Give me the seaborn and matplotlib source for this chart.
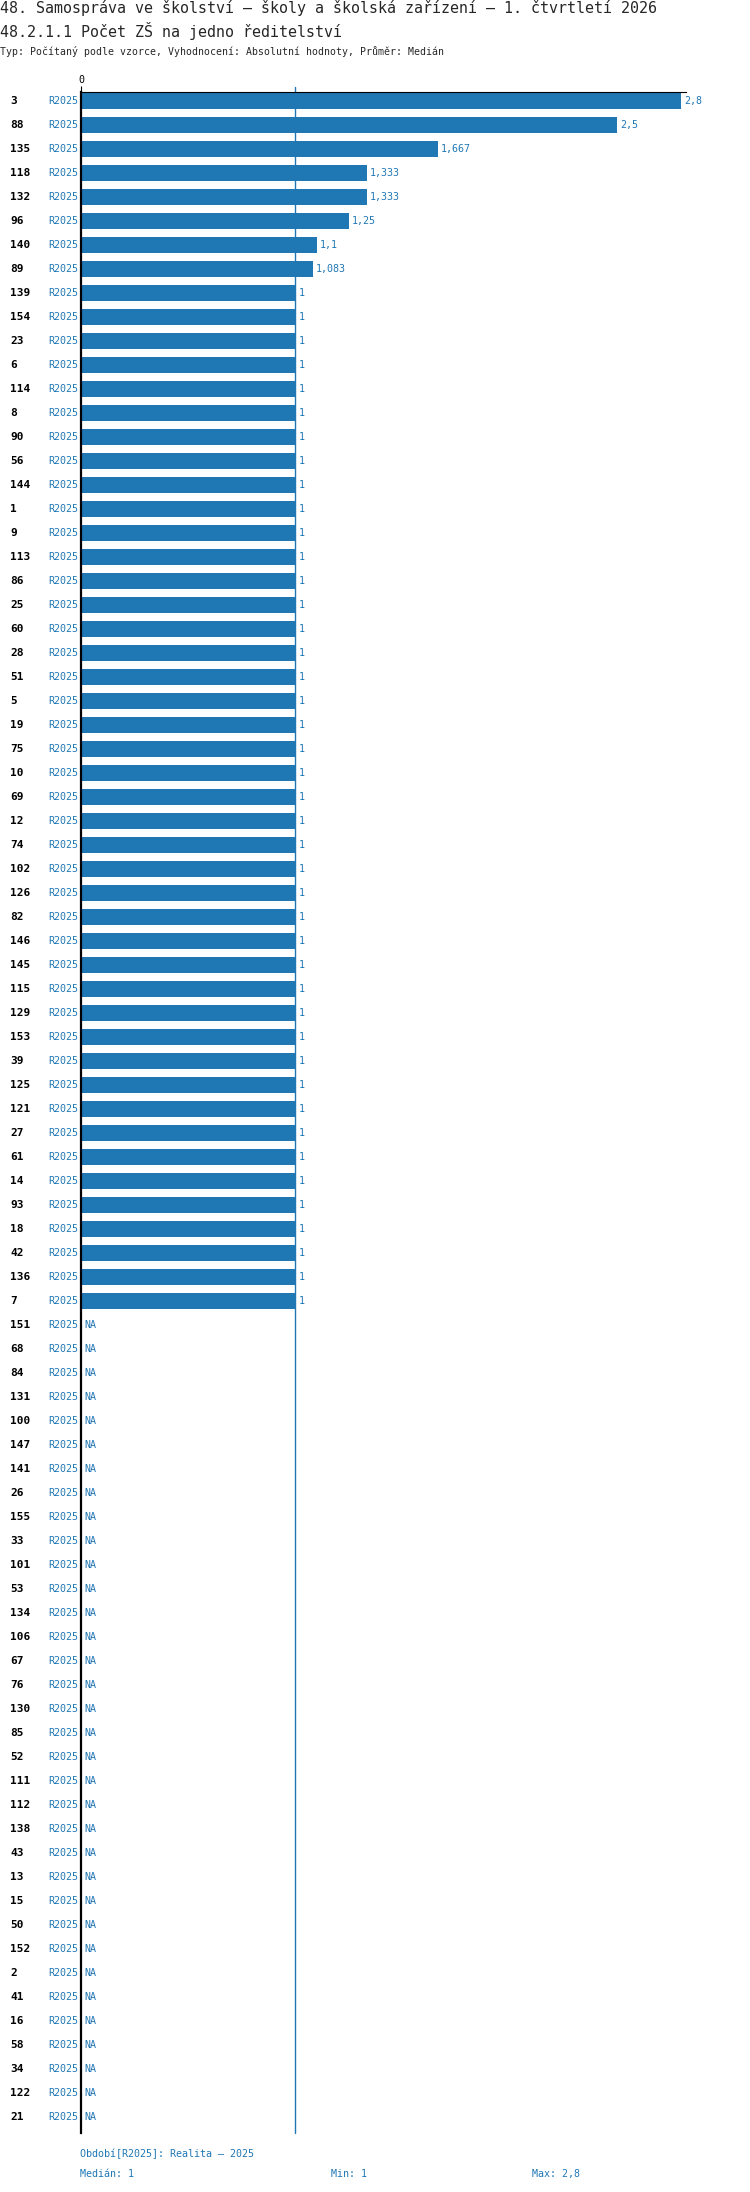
import matplotlib
matplotlib.use("Agg")
import matplotlib.pyplot as plt
import matplotlib.transforms as mtransforms
import numpy as np
import pandas as pd
import seaborn as sns

sns.set_style("white")
plt.rcParams["font.family"] = ["DejaVu Sans Mono", "DejaVu Sans"]

# data
kody_hodnoty = [3, 88, 135, 118, 132, 96, 140, 89, 139, 154, 23, 6, 114, 8, 90, 56,
                144, 1, 9, 113, 86, 25, 60, 28, 51, 5, 19, 75, 10, 69, 12, 74, 102,
                126, 82, 146, 145, 115, 129, 153, 39, 125, 121, 27, 61, 14, 93, 18,
                42, 136, 7]
hodnoty = [2.8, 2.5, 1.667, 1.333, 1.333, 1.25, 1.1, 1.083] + [1] * 43
kody_na = [151, 68, 84, 131, 100, 147, 141, 26, 155, 33, 101, 53, 134, 106, 67, 76,
           130, 85, 52, 111, 112, 138, 43, 13, 15, 50, 152, 2, 41, 16, 58, 34, 122, 21]
obdobi = "R2025"

title1 = "48. Samospráva ve školství – školy a školská zařízení – 1. čtvrtletí 2026"
title2 = "48.2.1.1 Počet ZŠ na jedno ředitelství"
subtitle = "Typ: Počítaný podle vzorce, Vyhodnocení: Absolutní hodnoty, Průměr: Medián"
footer = "Období[R2025]: Realita – 2025"

BLUE = "#1f77b4"
W, H = 750, 2192


def fmt(v):
    return f"{v:g}".replace(".", ",")


df = pd.DataFrame({"kod": [str(k) for k in kody_hodnoty], "hodnota": hodnoty})
order = [str(k) for k in kody_hodnoty + kody_na]

fig = plt.figure(figsize=(W / 100, H / 100), dpi=100)
ax = fig.add_axes([81 / W, 1 - 2133 / H, 605 / W, (2133 - 92) / H])

sns.barplot(data=df, y="kod", x="hodnota", order=order, orient="h",
            color=BLUE, saturation=1, width=16 / 24, linewidth=0, ax=ax)

ax.set_ylim(84.67, -0.36)
ax.set_xlim(0, 2.823)
ax.set_xlabel("")
ax.set_ylabel("")
ax.set_yticks([])

ax.xaxis.set_ticks_position("top")
ax.set_xticks([0])
ax.set_xticklabels(["0"])
ax.tick_params(axis="x", length=4, width=0.8, color="black", pad=1,
               labelsize=7.2, colors="black")

for side in ["right", "bottom"]:
    ax.spines[side].set_visible(False)
ax.spines["left"].set_linewidth(1.6)
ax.spines["left"].set_color("black")
ax.spines["top"].set_linewidth(0.8)
ax.spines["top"].set_color("black")

median = np.median(hodnoty)
ax.axvline(median, ymin=0, ymax=1 + 5 / 2041, color=BLUE, lw=1, clip_on=False)

# row labels
tr = mtransforms.blended_transform_factory(fig.transFigure, ax.transData)
for i, kod in enumerate(order):
    ax.text(10 / W, i, kod, transform=tr, ha="left", va="center",
            fontsize=8, fontweight="bold", color="black")
    ax.text(78 / W, i, obdobi, transform=tr, ha="right", va="center",
            fontsize=7.2, color=BLUE)

for i, v in enumerate(hodnoty):
    ax.text(v + 3 / 214.3, i, fmt(v), ha="left", va="center",
            fontsize=7.2, color=BLUE)

for j, kod in enumerate(kody_na):
    ax.text(84 / W, len(kody_hodnoty) + j, "NA", transform=tr, ha="left",
            va="center", fontsize=7.2, color=BLUE)

# titles
fig.text(0, 1 - 8.5 / H, title1, ha="left", va="center", fontsize=10.8)
fig.text(0, 1 - 30.5 / H, title2, ha="left", va="center", fontsize=10.8)
fig.text(0, 1 - 51.5 / H, subtitle, ha="left", va="center", fontsize=7.1)

# footer
fig.text(80 / W, 1 - 2154 / H, footer, ha="left", va="center", fontsize=7.2, color=BLUE)
fig.text(80 / W, 1 - 2174 / H, f"Medián: {fmt(median)}", ha="left", va="center",
         fontsize=7.2, color=BLUE)
fig.text(331 / W, 1 - 2174 / H, f"Min: {fmt(min(hodnoty))}", ha="left", va="center",
         fontsize=7.2, color=BLUE)
fig.text(532 / W, 1 - 2174 / H, f"Max: {fmt(max(hodnoty))}", ha="left", va="center",
         fontsize=7.2, color=BLUE)

fig.savefig("out.png", dpi=100)
plt.close(fig)
